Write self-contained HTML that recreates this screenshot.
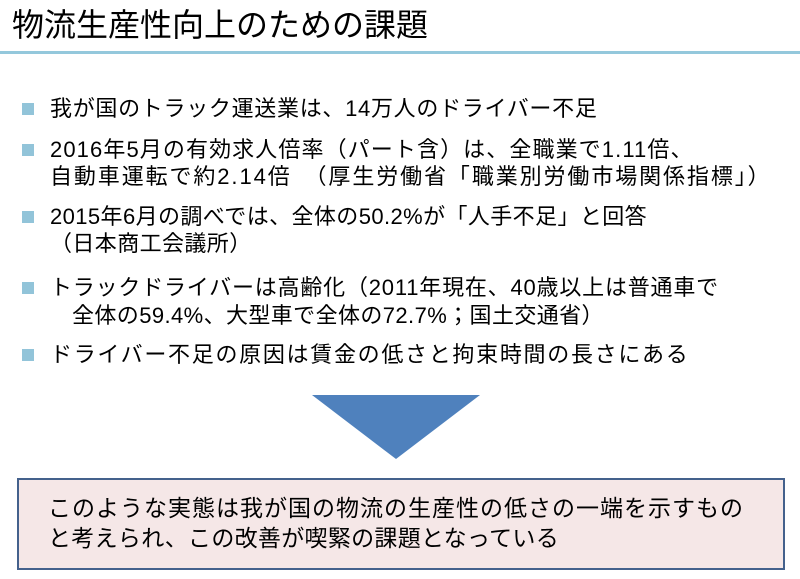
<!DOCTYPE html>
<html><head><meta charset="utf-8"><style>
body{margin:0;width:800px;height:579px;background:#fff;position:relative;overflow:hidden;font-family:"Liberation Sans","Noto Sans CJK JP",sans-serif;color:#000}
.t{position:absolute;white-space:nowrap;font-size:22px;line-height:26px;letter-spacing:0.4px}
.b{position:absolute;left:22px;width:12px;height:12px;background:#92c4d9}
</style></head><body>
<div class="t" style="left:12px;top:4px;font-size:32px;line-height:42px;letter-spacing:0">物流生産性向上のための課題</div>
<div style="position:absolute;left:0;top:51px;width:800px;height:3px;background:#94c8dc"></div>

<div class="b" style="top:103px"></div>
<div class="t" style="left:50px;top:96px;letter-spacing:0.7px">我が国のトラック運送業は、14万人のドライバー不足</div>

<div class="b" style="top:144px"></div>
<div class="t" style="left:50px;top:137px;letter-spacing:1.1px">2016年5月の有効求人倍率（パート含）は、全職業で1.11倍、</div>
<div class="t" style="left:50px;top:164px;letter-spacing:1.9px">自動車運転で約2.14倍　（厚生労働省「職業別労働市場関係指標」）</div>

<div class="b" style="top:211px"></div>
<div class="t" style="left:50px;top:204px">2015年6月の調べでは、全体の50.2%が「人手不足」と回答</div>
<div class="t" style="left:50px;top:231px">（日本商工会議所）</div>

<div class="b" style="top:282px"></div>
<div class="t" style="left:50px;top:275px;letter-spacing:0.8px">トラックドライバーは高齢化（2011年現在、40歳以上は普通車で</div>
<div class="t" style="left:72px;top:303px">全体の59.4%、大型車で全体の72.7%；国土交通省）</div>

<div class="b" style="top:349px"></div>
<div class="t" style="left:50px;top:342px;letter-spacing:1.7px">ドライバー不足の原因は賃金の低さと拘束時間の長さにある</div>

<svg style="position:absolute;left:0;top:0" width="800" height="579"><polygon points="312,395 480,395 396,459" fill="#4f81bd"/></svg>

<div style="position:absolute;left:17px;top:478px;width:764px;height:88px;background:#f5e7e7;border:2px solid #44618c"></div>
<div class="t" style="left:48px;top:495px;font-size:23px;letter-spacing:1px">このような実態は我が国の物流の生産性の低さの一端を示すもの</div>
<div class="t" style="left:48px;top:525px;font-size:23px;letter-spacing:0.3px">と考えられ、この改善が喫緊の課題となっている</div>
</body></html>
